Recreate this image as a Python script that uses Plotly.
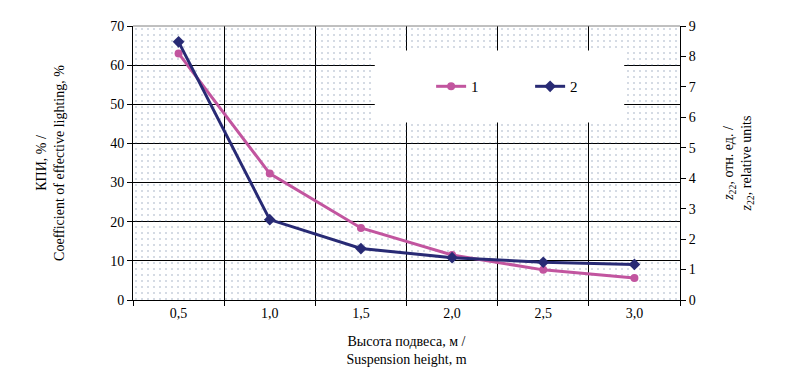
import plotly.graph_objects as go

# ---- data ----
heights = ["0,5", "1,0", "1,5", "2,0", "2,5", "3,0"]
kpi_percent = [63.0, 32.3, 18.4, 11.5, 7.7, 5.6]        # series 1, left axis
z22_relative = [8.48, 2.64, 1.69, 1.39, 1.24, 1.17]     # series 2, right axis
series_names = ["1", "2"]

Y_LEFT_MAX = 70
Y_RIGHT_MAX = 9

PINK = "#c2559f"
NAVY = "#282a74"
FONT = "Liberation Serif"

fig = go.Figure()

# dotted plot-area background
fig.add_trace(go.Bar(
    x=heights, y=[Y_LEFT_MAX] * len(heights), width=[1] * len(heights),
    marker=dict(color="rgba(0,0,0,0)", line=dict(width=0),
                pattern=dict(shape=".", fgcolor="#3d5882", size=6,
                             solidity=0.06, fillmode="overlay")),
    showlegend=False, hoverinfo="skip",
))

fig.add_trace(go.Scatter(
    x=heights, y=kpi_percent, name=series_names[0], mode="lines+markers",
    line=dict(color=PINK, width=3),
    marker=dict(symbol="circle", size=8, color=PINK),
))
fig.add_trace(go.Scatter(
    x=heights, y=z22_relative, name=series_names[1], mode="lines+markers",
    yaxis="y2",
    line=dict(color=NAVY, width=3),
    marker=dict(symbol="diamond", size=9, color=NAVY),
))

fig.update_layout(
    width=784, height=370,
    margin=dict(l=125, r=112, t=11, b=78),
    paper_bgcolor="white", plot_bgcolor="white",
    font=dict(family=FONT, size=14, color="black"),
    bargap=0,
    xaxis=dict(
        type="category", tickson="boundaries",
        ticks="outside", ticklen=5, tickcolor="black",
        showgrid=True, gridcolor="black", gridwidth=1,
        showline=True, linecolor="black", linewidth=1,
        tickfont=dict(family=FONT, size=14),
        title=dict(text="Высота подвеса, м /<br>Suspension height, m",
                   font=dict(family=FONT, size=14), standoff=16),
    ),
    yaxis=dict(
        range=[0, Y_LEFT_MAX], dtick=10,
        ticks="outside", ticklen=5, tickcolor="black",
        showgrid=True, gridcolor="black", gridwidth=1,
        showline=True, linecolor="black", linewidth=1,
        zeroline=False, tickfont=dict(family=FONT, size=14),
        title=dict(text="КПИ, % /<br>Coefficient of effective lighting, %",
                   font=dict(family=FONT, size=14), standoff=42),
    ),
    yaxis2=dict(
        overlaying="y", side="right",
        range=[0, Y_RIGHT_MAX], dtick=1,
        ticks="outside", ticklen=5, tickcolor="black",
        showgrid=False, showline=True, linecolor="black", linewidth=1,
        zeroline=False, tickfont=dict(family=FONT, size=14),
        title=dict(text="<i>z</i><sub>22</sub>, отн. ед. /<br><i>z</i><sub>22</sub>, relative units",
                   font=dict(family=FONT, size=14), standoff=28),
    ),
    legend=dict(
        orientation="h", x=0.545, y=0.779, xanchor="left", yanchor="middle",
        bgcolor="rgba(0,0,0,0)", font=dict(family=FONT, size=15),
        entrywidth=54, entrywidthmode="pixels", itemwidth=30,
    ),
    shapes=[
        dict(type="rect", xref="paper", yref="paper",
             x0=0.442, x1=0.898, y0=0.648, y1=0.911,
             fillcolor="white", line=dict(width=0), layer="above"),
        dict(type="line", xref="paper", yref="paper",
             x0=0, x1=1, y0=1, y1=1,
             line=dict(color="#808080", width=1), layer="above"),
    ],
)

fig.write_html("out.html")
